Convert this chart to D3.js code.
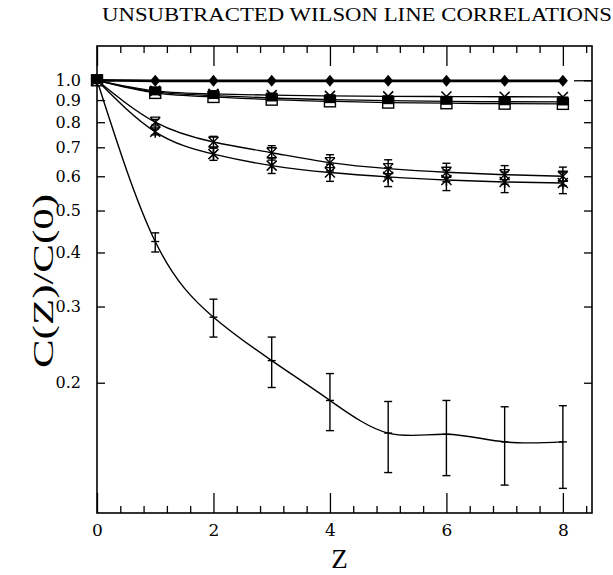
<!DOCTYPE html>
<html><head><meta charset="utf-8">
<script src="https://cdn.jsdelivr.net/npm/d3@7"></script>
<style>body{margin:0;background:#fff}svg{display:block}</style>
</head><body>
<script>
const zVals = [0,1,2,3,4,5,6,7,8];
const diamondVals = [1.0,0.997,0.997,0.997,0.997,0.997,0.997,0.997,0.997];
const crossVals   = [1.0,0.945,0.930,0.924,0.920,0.918,0.917,0.916,0.915];
const filledVals  = [1.0,0.940,0.922,0.910,0.902,0.897,0.894,0.892,0.891];
const openVals    = [1.0,0.935,0.915,0.902,0.894,0.888,0.885,0.883,0.882];
const upperVals   = [1.0,0.800,0.720,0.680,0.645,0.625,0.613,0.605,0.600];
const upperErr    = [0,0.012,0.022,0.026,0.028,0.030,0.030,0.030,0.030];
const lowerVals   = [1.0,0.760,0.675,0.635,0.612,0.598,0.588,0.582,0.579];
const lowerErr    = [0,0.012,0.022,0.026,0.028,0.030,0.032,0.032,0.032];
const bottomVals  = [1.0,0.424,0.2835,0.225,0.182,0.153,0.152,0.146,0.146];
const bottomLo    = [null,0.401,0.255,0.195,0.155,0.124,0.122,0.116,0.114];
const bottomHi    = [null,0.444,0.312,0.255,0.210,0.181,0.182,0.176,0.177];
const xMajorTicks = [0,2,4,6,8];
const xMinorTicks = [0.4,0.8,1.2,1.6,2.4,2.8,3.2,3.6,4.4,4.8,5.2,5.6,6.4,6.8,7.2,7.6,8.4];
const yTickLabels = [0.2,0.3,0.4,0.5,0.6,0.7,0.8,0.9,1.0];
const title = "UNSUBTRACTED WILSON LINE CORRELATIONS";

const W = 613, H = 575;
const L = 97, R = 592, T = 46, B = 513;
const svg = d3.select("body").append("svg").attr("width", W).attr("height", H);
const x = d3.scaleLinear().domain([0, 8.5]).range([L, R]);
const y = d3.scaleLog().domain([0.1, 1.2]).range([B, T]);
const font = "DejaVu Serif, Liberation Serif, serif";
const lfont = "Liberation Serif, DejaVu Serif, serif";

svg.append("rect").attr("x", L).attr("y", T).attr("width", R - L).attr("height", B - T)
  .attr("fill", "none").attr("stroke", "#000").attr("stroke-width", 1.6);

function styleAxis(g) {
  g.select(".domain").remove();
  g.selectAll(".tick line").attr("stroke", "#000").attr("stroke-width", 1.3);
}
svg.append("g").attr("transform", `translate(0,${B})`)
  .call(d3.axisBottom(x).tickValues(xMajorTicks).tickSize(-20).tickPadding(11).tickFormat(d3.format("d")))
  .call(styleAxis)
  .call(g => g.selectAll("text").attr("font-family", font).attr("font-size", 17).attr("fill", "#000"));
svg.append("g").attr("transform", `translate(0,${B})`)
  .call(d3.axisBottom(x).tickValues(xMinorTicks).tickSize(-7).tickFormat(""))
  .call(styleAxis);
svg.append("g").attr("transform", `translate(0,${T})`)
  .call(d3.axisTop(x).tickValues(xMajorTicks).tickSize(-20).tickFormat(""))
  .call(styleAxis);
svg.append("g").attr("transform", `translate(0,${T})`)
  .call(d3.axisTop(x).tickValues(xMinorTicks).tickSize(-7).tickFormat(""))
  .call(styleAxis);
svg.append("g").attr("transform", `translate(${L},0)`)
  .call(d3.axisLeft(y).tickValues(yTickLabels).tickSize(-8).tickPadding(16).tickFormat(d3.format(".1f")))
  .call(styleAxis)
  .call(g => g.selectAll("text").attr("font-family", font).attr("font-size", 16).attr("fill", "#000"));
svg.append("g").attr("transform", `translate(${L},0)`)
  .call(d3.axisLeft(y).tickValues([1.0]).tickSize(-18).tickFormat(""))
  .call(styleAxis);
svg.append("g").attr("transform", `translate(${R},0)`)
  .call(d3.axisRight(y).tickValues(yTickLabels).tickSize(-8).tickFormat(""))
  .call(styleAxis);
svg.append("g").attr("transform", `translate(${R},0)`)
  .call(d3.axisRight(y).tickValues([1.0]).tickSize(-18).tickFormat(""))
  .call(styleAxis);

svg.append("text").attr("x", 102).attr("y", 21).attr("font-family", lfont).attr("font-size", 18)
  .attr("textLength", 510).attr("lengthAdjust", "spacingAndGlyphs").text(title);
svg.append("text").attr("x", (L + R) / 2 - 5).attr("y", 568).attr("text-anchor", "middle")
  .attr("font-family", lfont).attr("font-size", 27).text("Z");
svg.append("text").attr("transform", "translate(53,281) rotate(-90)").attr("text-anchor", "middle")
  .attr("font-family", lfont).attr("font-size", 30)
  .attr("textLength", 174).attr("lengthAdjust", "spacingAndGlyphs").text("C(Z)/C(0)");

const plot = svg.append("g");
const line = d3.line().x((d, i) => x(zVals[i])).y(d => y(d)).curve(d3.curveNatural);
function drawLine(vals, w) {
  plot.append("path").datum(vals).attr("d", line).attr("fill", "none")
    .attr("stroke", "#000").attr("stroke-width", w);
}
function errBars(lo, hi, cap) {
  zVals.forEach((z, i) => {
    if (lo[i] == null || i === 0) return;
    const cx = x(z), y1 = y(lo[i]), y2 = y(hi[i]);
    plot.append("line").attr("x1", cx).attr("x2", cx).attr("y1", y1).attr("y2", y2).attr("stroke", "#000").attr("stroke-width", 1.4);
    [y1, y2].forEach(yy => plot.append("line").attr("x1", cx - cap).attr("x2", cx + cap).attr("y1", yy).attr("y2", yy).attr("stroke", "#000").attr("stroke-width", 1.4));
  });
}

drawLine(bottomVals, 1.4);
drawLine(lowerVals, 1.4);
drawLine(upperVals, 1.4);
drawLine(openVals, 1.3);
drawLine(filledVals, 1.3);
drawLine(crossVals, 1.3);
drawLine(diamondVals, 2.6);

errBars(bottomLo, bottomHi, 4);
errBars(upperVals.map((v, i) => v - upperErr[i]), upperVals.map((v, i) => v + upperErr[i]), 4);
errBars(lowerVals.map((v, i) => v - lowerErr[i]), lowerVals.map((v, i) => v + lowerErr[i]), 4);

zVals.forEach((z, i) => {
  const cx = x(z);
  if (i > 0) plot.append("line").attr("x1", cx - 4).attr("x2", cx + 4).attr("y1", y(bottomVals[i])).attr("y2", y(bottomVals[i])).attr("stroke", "#000").attr("stroke-width", 1.4);
  if (i > 0) {
    const yu = y(upperVals[i]);
    plot.append("path").attr("d", `M${cx-5},${yu-5}L${cx+5},${yu+5}M${cx+5},${yu-5}L${cx-5},${yu+5}M${cx-5},${yu-5}H${cx+5}M${cx-5},${yu+5}H${cx+5}`)
      .attr("stroke", "#000").attr("stroke-width", 1.3).attr("fill", "none");
    const yl = y(lowerVals[i]);
    plot.append("path").attr("d", `M${cx-5},${yl-5}L${cx+5},${yl+5}M${cx+5},${yl-5}L${cx-5},${yl+5}M${cx},${yl-6}V${yl+6}`)
      .attr("stroke", "#000").attr("stroke-width", 1.5).attr("fill", "none");
  }
  const yo = y(openVals[i]);
  plot.append("rect").attr("x", cx - 5.5).attr("y", yo - 5.5).attr("width", 11).attr("height", 11)
    .attr("fill", "#fff").attr("stroke", "#000").attr("stroke-width", 1.4);
  const yf = y(filledVals[i]);
  plot.append("rect").attr("x", cx - 5.5).attr("y", yf - 5.5).attr("width", 11).attr("height", 9)
    .attr("fill", "#000");
  const yc = y(crossVals[i]);
  plot.append("path").attr("d", `M${cx-5},${yc-5}L${cx+5},${yc+5}M${cx+5},${yc-5}L${cx-5},${yc+5}`)
    .attr("stroke", "#000").attr("stroke-width", 1.6).attr("fill", "none");
  const yd = y(diamondVals[i]);
  plot.append("path").attr("d", `M${cx},${yd-6}L${cx+5},${yd}L${cx},${yd+6}L${cx-5},${yd}Z`).attr("fill", "#000");
});
</script>
</body></html>
